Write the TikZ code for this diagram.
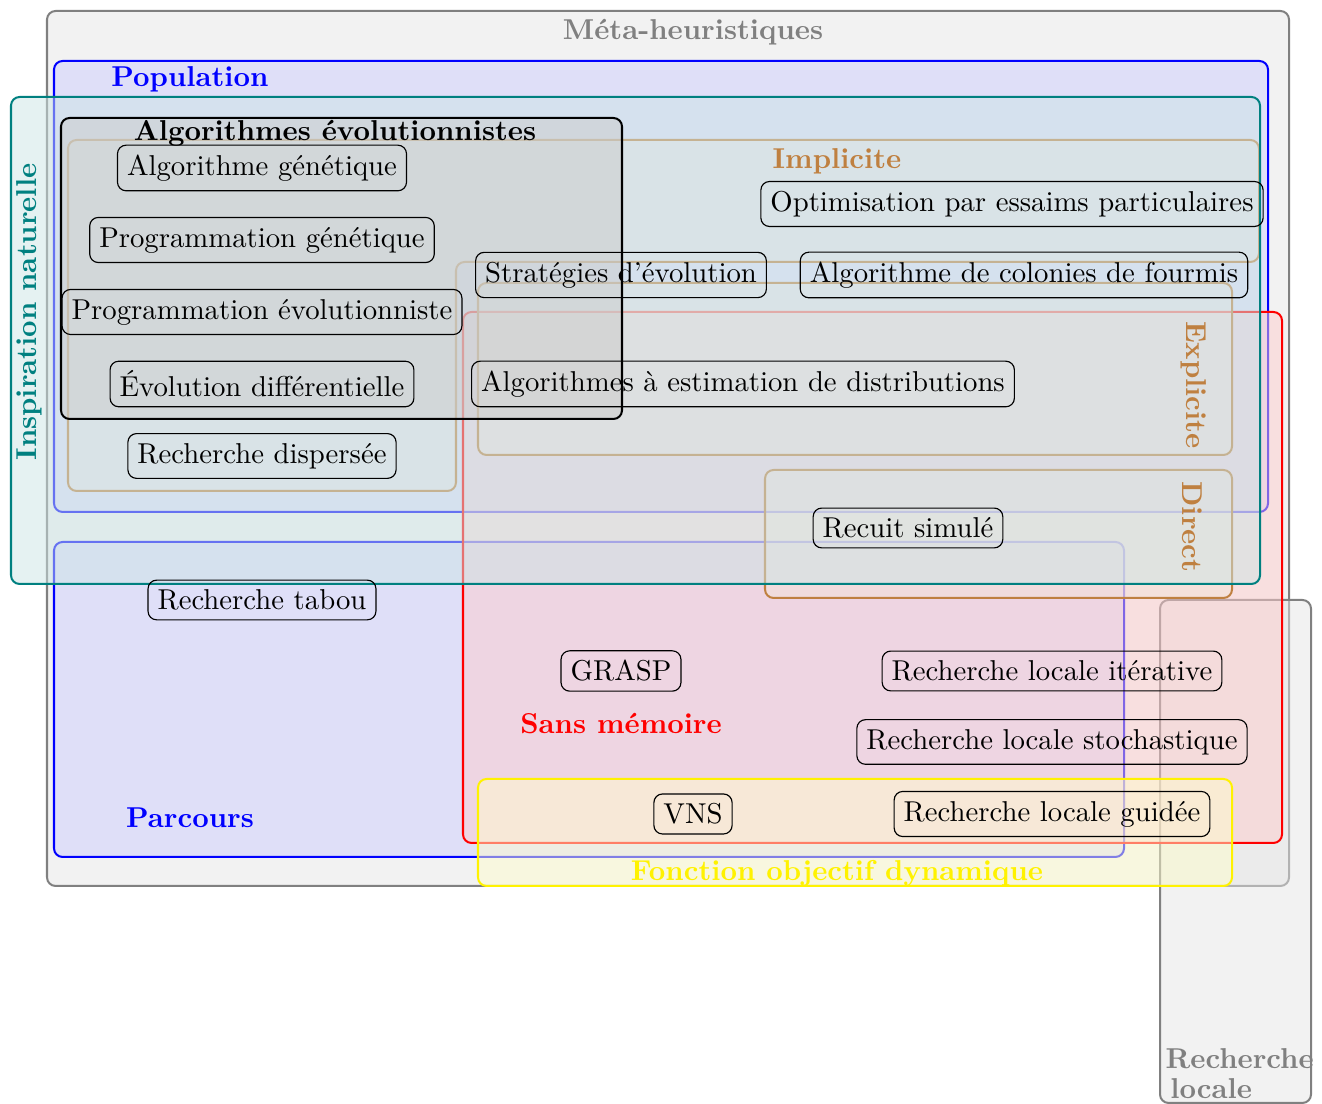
\documentclass[tikz,border=0pt]{standalone}
\begin{document}
\begin{tikzpicture}[x=0.348pt,y=-0.348pt,
  region/.style={rounded corners=3pt, line width=0.7pt, fill opacity=0.5},
  algo/.style={draw=black, line width=0.4pt, rounded corners=3pt, inner sep=3.33pt},
  lbl/.style={font=\bfseries, inner sep=0pt},
]
\useasboundingbox (0,0) rectangle (1322,1104);

% Méta-heuristiques
\path[region, draw=gray, fill=gray!20] (47,11) rectangle (1289,886);
% Recherche locale
\path[region, draw=gray, fill=gray!20] (1160,600) rectangle (1311,1103);
% Population
\path[region, draw=blue, fill=blue!20] (54,61) rectangle (1268,512);
% Parcours
\path[region, draw=blue, fill=blue!20] (54,542) rectangle (1124,857);
% Sans mémoire
\path[region, draw=red, fill=red!20] (463,312) rectangle (1282,843);
% Implicite
\path[region, draw=brown, fill=brown!20] (68,140) -- (1259,140) -- (1259,262) -- (456,262) -- (456,491) -- (68,491) -- cycle;
% Explicite
\path[region, draw=brown, fill=brown!20] (478,283) rectangle (1232,455);
% Direct
\path[region, draw=brown, fill=brown!20] (765,470) rectangle (1232,598);
% Inspiration naturelle
\path[region, draw=teal, fill=teal!20] (11,97) rectangle (1260,584);
% Algorithmes évolutionnistes
\path[region, draw=black, fill=black!20] (61,118) rectangle (622,419);
% Fonction objectif dynamique
\path[region, draw=yellow, fill=yellow!20] (478,779) rectangle (1232,886);

% labels
\node[lbl, text=gray] (lmeta) at (693,32) {Méta-heuristiques};
\node[lbl, text=blue] (lpop) at (190,79) {Population};
\node[lbl, text=teal, rotate=90] (linsp) at (29,312) {Inspiration naturelle};
\node[lbl] (levol) at (335,133) {Algorithmes évolutionnistes};
\node[lbl, text=brown] (limpl) at (837,161) {Implicite};
\node[lbl, text=brown, rotate=-90] (lexpl) at (1194,385) {Explicite};
\node[lbl, text=brown, rotate=-90] (ldir) at (1192,527) {Direct};
\node[lbl, text=red] (lsans) at (621,724) {Sans mémoire};
\node[lbl, text=blue] (lparc) at (190,818) {Parcours};
\node[lbl, text=yellow] (lfonc) at (837,873) {Fonction objectif dynamique};
\node[lbl, text=gray, align=left, anchor=north west] (lrl) at (1165,1048) {Recherche\\[-1.5pt]\,locale};

% algorithms
\node[algo] (ag) at (262,168) {Algorithme génétique};
\node[algo] (pg) at (262,240) {Programmation génétique};
\node[algo] (pe) at (262,312) {Programmation évolutionniste};
\node[algo] (ed) at (262,384) {Évolution différentielle};
\node[algo] (rd) at (262,456) {Recherche dispersée};
\node[algo] (rt) at (262,600) {Recherche tabou};
\node[algo] (se) at (621,275) {Stratégies d’évolution};
\node[algo] (ope) at (1012,204) {Optimisation par essaims particulaires};
\node[algo] (acf) at (1024,275) {Algorithme de colonies de fourmis};
\node[algo] (aed) at (743,384) {Algorithmes à estimation de distributions};
\node[algo] (rs) at (908,528) {Recuit simulé};
\node[algo] (grasp) at (621,671) {GRASP};
\node[algo] (rli) at (1052,671) {Recherche locale itérative};
\node[algo] (rls) at (1052,742) {Recherche locale stochastique};
\node[algo] (vns) at (693,814) {VNS};
\node[algo] (rlg) at (1052,814) {Recherche locale guidée};
\end{tikzpicture}
\end{document}
